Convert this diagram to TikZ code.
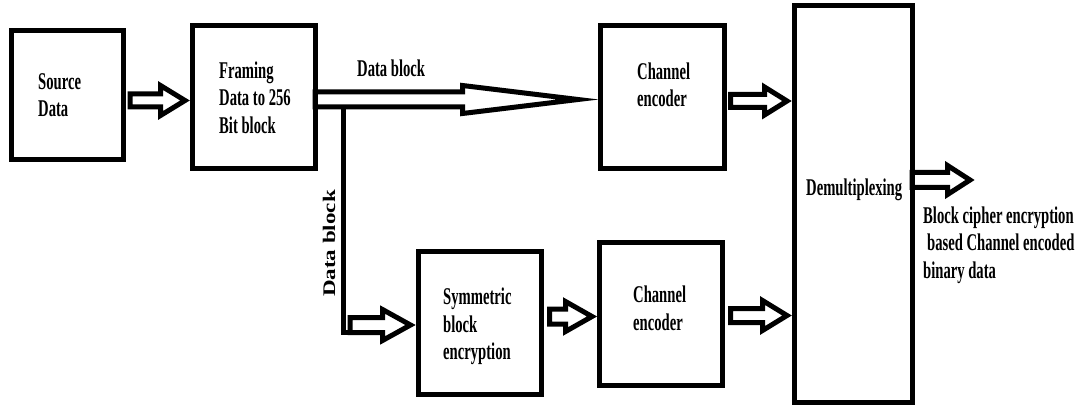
\documentclass[tikz,border=0pt]{standalone}
\usepackage{fontspec}
\usepackage{graphicx}
\usetikzlibrary{calc}
\newfontfamily\cf{Liberation Serif}[FakeStretch=0.61]
\newfontfamily\vf{Liberation Serif}
\begin{document}
\begin{tikzpicture}[x=1pt,y=-1pt,
  box/.style={draw, line width=5pt, inner sep=0pt, outer sep=0pt},
  txt/.style={font=\cf\bfseries\fontsize{24}{27.5}\selectfont, align=left, inner sep=0pt, anchor=west},
  hollow/.style n args={3}{line width=5pt, miter limit=10, to path={
    let \p1=(\tikztostart), \p2=(\tikztotarget) in
    (\x1,\y1+#1) -- (\x2-#3,\y1+#1) -- (\x2-#3,\y1+#2) -- (\x2,\y1)
    -- (\x2-#3,\y1-#2) -- (\x2-#3,\y1-#1) -- (\x1,\y1-#1) -- cycle}},
  ]
\useasboundingbox (0,0) rectangle (1078,406);
% boxes
\node[box, minimum width=112pt, minimum height=129pt] (src) at (67,95.5) {};
\node[box, minimum width=123pt, minimum height=143pt] (fr)  at (253.5,97.5) {};
\node[box, minimum width=124pt, minimum height=143pt] (ch1) at (662,97.5) {};
\node[box, minimum width=123pt, minimum height=143pt] (sym) at (479.5,322.5) {};
\node[box, minimum width=123pt, minimum height=143pt] (ch2) at (660.5,313.5) {};
\node[box, minimum width=118pt, minimum height=396pt] (dmx) at (853,204) {};
% texts
\node[txt] (srct) at (38,95) {Source\\Data};
\node[txt] (frt)  at (219,97.5) {Framing\\Data to 256\\Bit block};
\node[txt] (ch1t) at (637,85) {Channel\\encoder};
\node[txt] (symt) at (443,326.5) {Symmetric\\block\\encryption};
\node[txt] (ch2t) at (633,308.5) {Channel\\encoder};
\node[txt] (dmxt) at (806,189.5) {Demultiplexing};
\node[txt] (outt) at (923,245) {Block cipher encryption\\\hspace*{4pt}based Channel encoded\\binary data};
\node[txt] (dbt)  at (357,68) {Data block};
\node[inner sep=0pt] (dbv) at (329,243.5)
  {\scalebox{0.77}[1]{\rotatebox{90}{\vf\bfseries\fontsize{23}{27}\selectfont Data block}}};
% connectors
\draw[hollow={6.5pt}{15pt}{24.5pt}] ($(src.east)+(7,5)$) to ($(fr.west)+(-7,5)$);
\draw[hollow={7.5pt}{14pt}{115.5pt}] ($(fr.east)+(0,2)$) to ($(ch1.west)+(-22,2)$);
\draw[hollow={6.5pt}{14pt}{22.5pt}] ($(ch1.east)+(6.5,3.5)$) to ($(dmx.west)+(-7,-103)$);
\draw[hollow={7.5pt}{15pt}{26.5pt}] ($(sym.east)+(8.5,-6)$) to ($(ch2.west)+(-7,2.5)$);
\draw[hollow={7pt}{15pt}{24.5pt}] ($(ch2.east)+(8.5,2)$) to ($(dmx.west)+(-7,111.5)$);
\draw[hollow={7.5pt}{14.5pt}{22.5pt}] ($(dmx.east)+(0,-24)$) to ($(dmx.east)+(58,-24)$);
\coordinate (split) at (343,107);
\coordinate (turn) at (343,332.5);
\draw[line width=5pt] (split) -- (turn) -- ($(turn)+(7,0)$);
\draw[hollow={7.5pt}{15.5pt}{28pt}] ($(turn)+(7,-7.5)$) to ($(sym.west)+(-7.5,2.5)$);
\end{tikzpicture}
\end{document}
